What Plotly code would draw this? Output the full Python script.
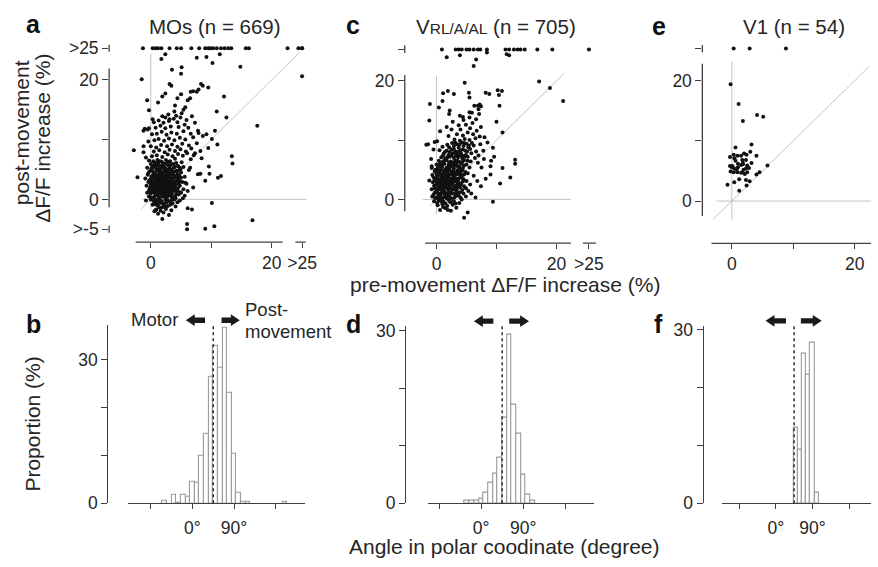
import plotly.graph_objects as go

W, H = 878, 567
FONT = "Liberation Sans, Arial, sans-serif"
TXT = "#262626"
AX = "#404040"
GUIDE = "#c4c4c4"

Y_SAT = 25.3      # ">25" row (y)
X_SAT_A = 25.0    # ">25" column in panel a
X_SAT_C = 25.4    # ">25" column in panel c

# ---------------- panel a : MOs (n = 669) ----------------
a_top_x = [-1.3, 0.3, 0.8, 1.2, 1.75, 3.1, 4.3, 5.0, 6.7, 8.0, 9.0, 9.5, 9.9, 10.3, 10.9,
           11.6, 12.2, 12.8, 13.3, 15.7, 16.2, 22.6, 24.4, X_SAT_A, X_SAT_A]
a_outliers = [(2.4, 24.3), (1.75, 23.5), (7.6, 23.7), (9.2, 23.8), (10.2, 22.8), (11.4, 24.3),
              (14.8, 22.2), (3.5, 21.7), (5.1, 22.1), (5.0, 21.0), (-1.5, 20.1), (X_SAT_A, 20.6),
              (3.1, 19.3), (3.4, 19.0), (8.3, 19.3), (8.6, 19.0), (9.5, 18.7), (7.9, 18.4),
              (7.0, 18.1), (7.6, 18.0), (6.6, 18.0), (2.4, 17.7), (1.9, 17.2), (5.0, 17.6),
              (4.4, 16.9), (12.1, 17.2), (-0.6, 16.6), (1.2, 16.2), (6.1, 16.6), (6.5, 16.9),
              (4.0, 15.7), (5.7, 15.4), (5.4, 15.0), (-0.3, 14.9), (3.9, 14.7), (10.9, 14.7),
              (12.5, 13.7), (0.3, 13.4), (2.4, 13.7), (3.1, 13.4), (4.9, 13.7), (-1.0, 11.8),
              (-1.2, 11.5), (-0.3, 11.9), (17.6, 12.3), (10.6, 11.5), (9.2, 10.9), (7.9, 11.1),
              (10.1, 10.1), (11.0, 9.2), (9.5, 8.6), (-2.8, 8.2), (-1.2, 8.9), (13.4, 7.2),
              (13.5, 6.0), (9.6, 5.5), (8.2, 4.3), (9.7, 4.3), (11.1, 3.6), (11.6, 3.9),
              (-2.2, 3.7), (10.1, -0.6), (6.1, -1.5), (6.8, -1.7), (1.9, -3.3), (6.0, -4.1),
              (6.0, -5.0), (9.0, -4.9), (10.5, -4.5), (16.8, -3.5), (-0.8, -0.2), (0.8, -1.8),
              (7.3, 7.7), (8.4, 6.9), (6.5, 5.3), (7.8, 4.2), (9.0, 3.1), (5.7, 2.8), (7.0, 2.0),
              (4.9, 1.2)]
a_core = [(1.2, -2.4), (2.1, -2.2), (3.0, -2.6), (0.6, -2.0), (0.9, -1.7), (1.6, -1.9), (2.5, -1.6),
          (3.4, -1.8), (1.9, -1.3), (4.1, -1.2), (0.3, -0.9), (1.1, -1.0), (1.5, -0.6), (2.2, -0.9),
          (2.8, -1.1), (3.6, -0.7), (4.4, -0.5), (0.5, -0.3), (1.0, -0.2), (1.8, -0.4), (2.4, -0.1),
          (3.1, -0.3), (3.9, 0.0), (4.8, -0.2), (5.3, 0.2), (-0.3, 0.5), (0.2, 0.3), (0.7, 0.6),
          (1.3, 0.4), (1.9, 0.5), (2.6, 0.3), (3.3, 0.6), (4.0, 0.5), (4.6, 0.8), (5.6, 0.6),
          (-0.6, 1.1), (0.0, 1.0), (0.5, 1.2), (1.1, 0.9), (1.6, 1.1), (2.2, 1.0), (2.9, 1.2),
          (3.5, 0.9), (4.2, 1.3), (5.0, 1.1), (6.1, 1.4), (-0.2, 1.7), (0.3, 1.5), (0.9, 1.8),
          (1.4, 1.6), (2.0, 1.7), (2.5, 1.5), (3.1, 1.8), (3.8, 1.6), (4.5, 1.9), (5.4, 1.7),
          (-0.7, 2.3), (0.1, 2.2), (0.6, 2.4), (1.2, 2.1), (1.7, 2.3), (2.3, 2.2), (2.8, 2.5),
          (3.4, 2.2), (4.1, 2.4), (4.8, 2.3), (5.9, 2.6), (-0.4, 2.9), (0.2, 2.8), (0.8, 3.0),
          (1.3, 2.7), (1.9, 2.9), (2.4, 2.8), (3.0, 3.0), (3.6, 2.8), (4.3, 3.1), (5.2, 2.9),
          (-0.9, 3.5), (0.0, 3.4), (0.5, 3.6), (1.0, 3.3), (1.5, 3.5), (2.1, 3.4), (2.6, 3.6),
          (3.2, 3.3), (3.9, 3.6), (4.6, 3.5), (5.6, 3.8), (-0.5, 4.1), (0.3, 4.0), (0.8, 4.2),
          (1.4, 3.9), (1.9, 4.1), (2.5, 4.0), (3.0, 4.3), (3.7, 4.1), (4.4, 4.2), (5.0, 4.5),
          (-0.2, 4.7), (0.4, 4.6), (1.0, 4.8), (1.6, 4.5), (2.2, 4.7), (2.8, 4.6), (3.4, 4.9),
          (4.1, 4.7), (4.9, 5.0), (6.3, 4.9), (-0.6, 5.3), (0.1, 5.2), (0.7, 5.4), (1.3, 5.1),
          (1.8, 5.3), (2.4, 5.2), (3.1, 5.5), (3.8, 5.3), (4.5, 5.6), (5.4, 5.4), (0.0, 5.9),
          (0.6, 5.8), (1.2, 6.0), (1.9, 5.7), (2.6, 6.0), (3.3, 5.8), (4.2, 6.1), (5.1, 6.2),
          (-0.3, 6.5), (0.4, 6.4), (1.1, 6.6), (1.8, 6.3), (2.5, 6.6), (3.2, 6.4), (4.0, 6.8),
          (6.6, 6.7), (0.8, 0.9), (1.5, 1.4), (2.1, 1.3), (2.7, 1.9), (1.1, 2.5), (2.0, 2.6),
          (1.6, 3.0), (2.3, 3.1), (0.7, 3.9), (1.7, 4.3), (2.6, 4.4), (1.3, 4.9), (0.9, 1.5),
          (2.4, 0.7), (3.0, 2.3), (1.8, 3.8), (2.9, 3.7), (0.4, 2.0), (3.5, 4.5), (1.0, 5.7),
          (2.2, 5.5), (3.6, 2.0), (1.4, 0.2), (2.0, -0.7), (3.2, 1.5), (0.2, 3.1), (2.8, 5.0),
          (1.7, 2.0), (3.8, 3.0), (4.0, 1.9), (3.3, 4.0), (0.6, 4.3), (2.5, 1.2), (1.2, 3.6),
          (0.9, -0.5), (2.7, 0.0)]
a_core2 = [(0.0, 0.0), (0.6, 0.2), (1.2, -0.1), (1.7, 0.8), (2.3, 0.4), (2.9, 0.6), (3.5, 0.3),
           (4.2, 0.9), (-0.3, 1.4), (0.4, 1.3), (1.0, 1.2), (1.8, 1.2), (2.4, 1.7), (3.1, 1.1),
           (3.7, 1.4), (4.4, 1.5), (-0.1, 2.0), (0.9, 2.1), (1.4, 2.2), (2.1, 2.0), (2.6, 2.2),
           (3.2, 2.0), (3.9, 2.3), (4.6, 2.6), (0.0, 2.5), (0.5, 2.7), (1.6, 2.6), (2.2, 2.5),
           (2.9, 2.7), (3.4, 2.6), (4.0, 2.8), (4.8, 3.0), (-0.2, 3.2), (0.8, 3.3), (1.3, 3.2),
           (1.9, 3.5), (2.6, 3.2), (3.6, 3.3), (4.3, 3.7), (5.0, 3.6), (0.1, 3.8), (1.1, 4.0),
           (2.2, 3.9), (2.8, 4.1), (3.3, 3.7), (4.0, 3.9), (4.7, 4.0), (-0.4, 4.4), (0.5, 4.3),
           (1.4, 4.5), (2.0, 4.4), (2.9, 4.4), (3.7, 4.6), (4.4, 4.8), (0.2, 5.0), (0.9, 5.1),
           (1.6, 4.9), (2.3, 5.0), (3.2, 5.1), (4.0, 5.4), (4.8, 5.3), (0.3, 5.6), (1.5, 5.6),
           (2.1, 6.0), (2.9, 5.7), (3.7, 5.9), (0.8, 6.1), (1.5, 6.4), (2.9, 6.3), (0.7, -0.8),
           (1.4, -1.3), (2.4, -1.3), (3.2, -0.9), (1.7, -0.2), (2.6, -0.5), (3.5, -0.1), (4.1, 0.2)]
a_mid = [(-0.8, 7.0), (0.2, 7.2), (1.0, 7.4), (1.9, 7.1), (2.8, 7.5), (3.6, 7.2), (4.5, 7.6),
         (5.3, 7.3), (6.0, 7.7), (7.1, 7.4), (-1.2, 7.9), (0.5, 8.0), (1.4, 8.2), (2.3, 7.9),
         (3.1, 8.3), (4.0, 8.1), (4.9, 8.4), (5.8, 8.0), (6.7, 8.5), (8.2, 8.1), (0.0, 8.9),
         (0.9, 8.7), (1.7, 9.1), (2.7, 8.9), (3.5, 9.2), (4.4, 8.8), (5.2, 9.3), (6.3, 9.0),
         (7.6, 9.4), (-0.4, 9.7), (0.6, 9.9), (1.3, 10.1), (2.2, 9.8), (3.0, 10.2), (3.9, 9.9),
         (4.8, 10.3), (5.7, 10.0), (7.0, 10.4), (8.6, 10.6), (0.2, 10.9), (1.0, 11.0), (1.8, 11.3),
         (2.6, 10.8), (3.4, 11.2), (4.3, 11.0), (5.4, 11.4), (6.6, 11.0), (7.8, 11.5), (-0.5, 11.7),
         (0.8, 12.0), (1.6, 12.3), (2.4, 11.9), (3.3, 12.2), (4.6, 12.1), (5.6, 12.5), (6.2, 12.0),
         (0.5, 12.9), (1.3, 13.2), (2.1, 12.8), (3.0, 13.1), (3.8, 13.5), (4.4, 12.9), (5.9, 13.3),
         (7.3, 12.8), (1.9, 13.9), (2.9, 14.2), (4.2, 14.0), (5.1, 14.4), (6.8, 13.9)]

# ---------------- panel c : VRL/A/AL (n = 705) ----------------
c_top_x = [0.9, 3.2, 3.7, 4.2, 5.0, 5.5, 6.2, 6.9, 7.3, 8.4, 11.5, 12.1, 12.9, 13.5, 14.0,
           14.7, 16.8, 19.3, X_SAT_C]
c_outliers = [(1.7, 24.0), (3.9, 24.3), (8.4, 24.8), (11.7, 24.5), (12.1, 24.3), (6.6, 23.6),
              (6.2, 22.5), (4.7, 19.7), (17.1, 19.9), (18.9, 18.8), (21.1, 16.6), (-1.1, 16.1),
              (-1.2, 13.3), (0.4, 15.5), (1.0, 16.6), (1.9, 18.3), (1.1, 17.9), (2.9, 17.8),
              (5.4, 18.0), (5.5, 17.2), (8.2, 18.0), (8.8, 17.8), (10.2, 18.4), (10.9, 18.3),
              (10.4, 17.6), (10.5, 15.8), (6.9, 15.8), (7.4, 15.7), (5.5, 14.7), (2.1, 14.4),
              (4.4, 13.9), (7.1, 14.4), (10.0, 13.1), (11.0, 11.3), (-1.7, 9.2), (-1.4, 9.3),
              (-0.3, 9.7), (9.6, 7.2), (13.1, 6.7), (13.1, 6.0), (11.0, 5.3), (9.1, 6.5),
              (9.0, 5.6), (12.3, 3.7), (10.6, 2.7), (9.4, -0.4), (5.2, -2.2), (4.6, -3.1),
              (-1.2, 3.2), (-0.8, 5.6)]
c_core = [(0.6, -1.8), (1.5, -1.5), (2.4, -1.9), (3.3, -1.4), (0.2, -1.0), (1.0, -0.8), (1.8, -1.1),
          (2.7, -0.9), (3.8, -0.6), (-0.4, -0.3), (0.4, -0.2), (1.2, -0.4), (2.0, -0.1), (2.9, -0.3),
          (4.2, 0.0), (-0.7, 0.5), (0.0, 0.3), (0.7, 0.6), (1.4, 0.4), (2.2, 0.5), (3.0, 0.3),
          (3.7, 0.6), (4.9, 0.5), (-0.3, 1.1), (0.3, 0.9), (0.9, 1.2), (1.6, 1.0), (2.3, 1.1),
          (3.1, 0.9), (3.9, 1.2), (5.3, 1.4), (-0.8, 1.7), (0.0, 1.6), (0.6, 1.8), (1.2, 1.5),
          (1.9, 1.7), (2.6, 1.6), (3.4, 1.8), (4.3, 1.6), (-0.4, 2.3), (0.3, 2.1), (0.9, 2.4),
          (1.5, 2.2), (2.2, 2.3), (2.9, 2.1), (3.6, 2.4), (4.6, 2.2), (5.6, 2.5), (-0.6, 2.9),
          (0.1, 2.8), (0.7, 3.0), (1.3, 2.7), (2.0, 2.9), (2.7, 2.8), (3.3, 3.0), (4.0, 2.7),
          (5.0, 3.1), (-0.2, 3.5), (0.4, 3.3), (1.0, 3.6), (1.7, 3.4), (2.4, 3.5), (3.0, 3.3),
          (3.8, 3.6), (4.5, 3.4), (-0.7, 4.1), (0.1, 4.0), (0.8, 4.2), (1.4, 3.9), (2.1, 4.1),
          (2.8, 4.0), (3.5, 4.3), (4.2, 4.0), (5.2, 4.4), (-0.3, 4.7), (0.5, 4.5), (1.1, 4.8),
          (1.8, 4.6), (2.5, 4.7), (3.2, 4.5), (3.9, 4.8), (4.8, 4.6), (-0.8, 5.3), (0.2, 5.2),
          (0.9, 5.4), (1.5, 5.1), (2.2, 5.3), (2.9, 5.2), (3.6, 5.5), (4.4, 5.3), (5.5, 5.4),
          (0.0, 5.9), (0.7, 5.7), (1.3, 6.0), (2.0, 5.8), (2.7, 5.9), (3.4, 5.7), (4.1, 6.0),
          (5.0, 5.9), (0.4, 6.5), (1.0, 6.3), (1.7, 6.6), (2.4, 6.4), (3.1, 6.5), (3.8, 6.3),
          (4.6, 6.6), (5.7, 6.4), (0.8, 7.1), (1.5, 6.9), (2.2, 7.2), (2.9, 7.0), (3.6, 7.1),
          (4.3, 6.9), (5.2, 7.2), (6.4, 7.0), (1.2, 7.7), (2.0, 7.5), (2.7, 7.8), (3.4, 7.6),
          (4.1, 7.7), (4.9, 7.5), (5.8, 7.8), (7.0, 7.4), (0.5, 8.3), (1.7, 8.2), (2.5, 8.4),
          (3.2, 8.1), (4.0, 8.3), (4.8, 8.2), (5.6, 8.5), (6.6, 8.1), (1.0, 8.9), (2.1, 8.8),
          (2.9, 9.0), (3.7, 8.7), (4.5, 9.0), (5.3, 8.8), (6.2, 9.1), (2.6, 9.5), (3.4, 9.3),
          (4.2, 9.6), (5.0, 9.4), (5.9, 9.5), (7.3, 9.3), (3.0, 10.1), (3.9, 9.9), (4.7, 10.2),
          (5.5, 10.0), (6.5, 10.3), (0.5, 0.0), (1.1, 1.9), (1.8, 2.5), (2.5, 3.0), (1.2, 4.3),
          (2.0, 3.7), (2.6, 4.4), (0.6, 2.6), (1.5, 3.1), (3.0, 3.8), (0.3, 4.8), (1.9, 5.0),
          (2.8, 5.6), (3.3, 6.2), (1.3, 1.3), (2.0, 0.8), (3.3, 1.4), (0.9, 3.9), (3.9, 5.0),
          (2.3, 6.1), (4.0, 4.5), (1.7, 0.2), (3.5, 2.6), (4.4, 7.3), (3.1, 7.9), (2.2, 2.7)]
c_core2 = [(0.1, -0.6), (0.8, -0.4), (1.5, -0.7), (2.3, -0.5), (3.2, -0.7), (1.1, -1.3), (1.9, -1.8),
           (-0.2, 0.2), (0.4, 0.5), (1.0, 0.2), (1.7, 0.6), (2.5, 0.1), (3.3, 0.6), (4.0, 0.3),
           (-0.5, 0.8), (0.1, 1.3), (0.6, 1.0), (1.3, 0.9), (2.0, 1.3), (2.7, 1.0), (3.5, 1.1),
           (4.5, 1.0), (-0.3, 1.9), (0.4, 1.7), (1.0, 1.6), (1.6, 2.0), (2.3, 1.9), (3.0, 1.7),
           (3.9, 2.0), (4.9, 1.9), (0.0, 2.5), (0.6, 2.3), (1.2, 2.3), (1.9, 2.2), (2.6, 2.5),
           (3.2, 2.3), (4.1, 2.5), (-0.3, 3.2), (0.3, 3.0), (1.0, 3.1), (1.7, 2.9), (2.3, 3.2),
           (2.9, 3.0), (3.6, 3.1), (4.4, 3.0), (-0.5, 3.7), (0.2, 3.7), (0.8, 3.5), (1.4, 3.6),
           (2.1, 3.4), (2.7, 3.6), (3.4, 3.5), (4.2, 3.7), (0.0, 4.3), (0.6, 4.1), (1.2, 4.0),
           (1.8, 4.2), (2.4, 4.3), (3.1, 4.1), (3.8, 4.3), (4.6, 4.2), (-0.2, 5.0), (0.6, 4.9),
           (1.4, 4.6), (2.1, 4.9), (2.8, 4.8), (3.5, 4.9), (4.3, 4.9), (0.3, 5.6), (1.0, 5.8),
           (1.7, 5.4), (2.4, 5.6), (3.1, 5.7), (3.8, 5.5), (4.6, 5.7), (0.6, 6.1), (1.3, 6.6),
           (2.1, 6.2), (2.8, 6.2), (3.5, 6.5), (4.3, 6.3), (5.2, 6.5), (1.1, 7.4), (1.8, 7.1),
           (2.5, 7.4), (3.2, 7.3), (3.9, 7.4), (4.7, 7.2), (1.4, 8.0), (2.2, 8.0), (2.9, 8.5),
           (3.6, 8.0), (4.4, 8.4), (5.1, 8.1), (1.8, 9.2), (3.1, 9.6), (3.8, 9.2), (4.6, 9.5),
           (5.4, 9.1)]
c_mid = [(2.0, 10.7), (3.4, 11.0), (4.4, 10.8), (5.2, 11.3), (6.1, 11.0), (7.2, 10.6), (4.0, 11.8),
         (5.6, 12.0), (6.7, 11.6), (3.7, 12.5), (4.9, 12.6), (6.0, 12.9), (7.4, 12.2), (2.7, 13.1),
         (4.5, 13.4), (5.5, 13.8), (6.6, 13.5), (3.9, 14.1), (5.9, 14.6), (7.0, 15.2), (6.3, 15.8),
         (7.2, 16.0), (2.2, 15.0), (1.7, 12.2), (2.5, 11.8), (8.0, 10.5), (7.8, 8.2), (8.5, 9.6),
         (9.4, 8.7), (7.9, 6.8), (6.9, 6.2), (7.5, 5.4), (6.2, 4.0), (6.8, 3.1), (8.2, 3.5),
         (9.0, 4.2), (7.4, 2.2), (5.8, 1.0), (6.5, 0.3), (0.1, 9.8), (-0.5, 8.4), (-0.9, 6.8),
         (0.6, 11.5)]

# ---------------- panel e : V1 (n = 54) ----------------
e_top_x = [0.3, 2.9, 8.8]
e_pts = [(-0.2, 19.4), (1.1, 16.1), (4.1, 14.3), (5.1, 14.0), (1.8, 13.3), (3.2, 9.4), (0.6, 8.9),
         (-0.3, 7.3), (0.3, 7.7), (0.9, 7.5), (1.5, 7.5), (2.0, 7.9), (2.4, 7.7), (3.0, 8.2),
         (4.0, 7.5), (0.4, 7.1), (1.7, 6.8), (0.6, 6.7), (2.3, 6.8), (3.2, 6.3), (-0.3, 5.8),
         (0.1, 5.8), (0.4, 5.4), (1.0, 5.6), (1.5, 6.0), (1.8, 6.3), (2.5, 5.9), (2.8, 5.5),
         (1.9, 5.2), (2.3, 5.4), (-0.2, 4.9), (0.3, 4.8), (0.9, 4.8), (1.5, 4.7), (1.7, 4.8),
         (2.5, 4.8), (5.8, 5.9), (4.5, 4.8), (4.0, 4.4), (1.2, 3.6), (2.3, 3.5), (2.9, 3.3),
         (2.4, 2.6), (-0.7, 2.7), (0.4, 3.1), (1.2, 1.7), (0.0, 5.6), (1.8, 6.1), (0.8, 5.2),
         (2.1, 4.5), (1.0, 6.2)]

# ---------------- histograms (angle in polar coordinate, 10 deg bins) ----------------
b_centers = [-60, -40, -30, -20, -10, 0, 10, 20, 30, 40, 50, 60, 70, 80, 90, 100, 110, 120, 200]
b_props = [0.6, 1.7, 0.2, 1.7, 1.35, 4.5, 4.3, 9.9, 14.5, 26.5, 32.8, 28.3, 36.6, 23.0, 10.3,
           2.2, 0.3, 0.3, 0.3]
d_centers = [-30, -20, -10, 0, 10, 20, 30, 40, 50, 60, 70, 80, 90, 100, 110]
d_props = [0.45, 0.45, 0.45, 0.85, 1.9, 3.6, 5.2, 7.9, 14.9, 29.3, 17.1, 12.1, 4.9, 1.5, 0.45]
f_centers = [50, 60, 70, 80, 90, 100]
f_props = [13.0, 9.3, 25.9, 22.2, 27.8, 1.85]
BOUNDARY_DEG = 45

hist_ticks = [-90, 0, 90, 180]
hist_ticktext = ["", "0°", "90°", ""]


def X(p):
    return p / W


def Y(p):
    return 1 - p / H


def xy(points):
    return [p[0] for p in points], [p[1] for p in points]


fig = go.Figure()

MK = dict(size=4.0, color="#111111", line=dict(width=0))


def add_scatter(top_x, pts_lists, xa, ya):
    xs = list(top_x)
    ys = [Y_SAT] * len(top_x)
    for pts in pts_lists:
        px_, py_ = xy(pts)
        xs += px_
        ys += py_
    fig.add_trace(go.Scatter(x=xs, y=ys, mode="markers", marker=MK, xaxis=xa, yaxis=ya,
                             hoverinfo="skip"))


add_scatter(a_top_x, [a_outliers, a_core, a_core2, a_mid], "x", "y")
add_scatter(c_top_x, [c_outliers, c_core, c_core2, c_mid], "x2", "y2")
add_scatter(e_top_x, [e_pts], "x3", "y3")

BAR_MK = dict(color="white", line=dict(color="#9a9a9a", width=1.1))
fig.add_trace(go.Bar(x=b_centers, y=b_props, width=10, marker=BAR_MK, xaxis="x4", yaxis="y4"))
fig.add_trace(go.Bar(x=d_centers, y=d_props, width=10, marker=BAR_MK, xaxis="x5", yaxis="y5"))
fig.add_trace(go.Bar(x=f_centers, y=f_props, width=10, marker=BAR_MK, xaxis="x6", yaxis="y6"))

TICKFONT = dict(family=FONT, size=17.5, color=TXT)


def sc_x(dom, rng, tv, tt, anchor):
    return dict(domain=[X(dom[0]), X(dom[1])], range=rng, anchor=anchor, showline=False,
                showgrid=False, zeroline=False, ticks="outside", ticklen=5, tickwidth=1.3,
                tickcolor=AX, tickvals=tv, ticktext=tt, tickfont=TICKFONT, fixedrange=True)


def sc_y(dom, rng, tv, tt, anchor):
    return dict(domain=[Y(dom[1]), Y(dom[0])], range=rng, anchor=anchor, showline=False,
                showgrid=False, zeroline=False, ticks="outside", ticklen=6, tickwidth=1.3,
                tickcolor=AX, tickvals=tv, ticktext=tt, tickfont=TICKFONT, fixedrange=True)


def h_x(dom, rng, anchor):
    return dict(domain=[X(dom[0]), X(dom[1])], range=rng, anchor=anchor, showline=True,
                linecolor=AX, linewidth=1.3, showgrid=False, zeroline=False, ticks="outside",
                ticklen=5, tickwidth=1.3, tickcolor=AX, tickvals=hist_ticks,
                ticktext=hist_ticktext, tickfont=TICKFONT, ticklabelstandoff=4)


def h_y(dom, rng, pos):
    return dict(domain=[Y(dom[1]), Y(dom[0])], range=rng, anchor="free", position=X(pos),
                showline=True, linecolor=AX, linewidth=1.3, showgrid=False, zeroline=False,
                ticks="outside", ticklen=6, tickwidth=1.3, tickcolor=AX,
                tickvals=[0, 10, 20, 30], ticktext=["0", "", "", "30"], tickfont=TICKFONT)


layout_axes = dict(
    xaxis=sc_x((110, 312), [-6.885, 26.23], [0, 10, 20, X_SAT_A], ["0", "", "20", ">25"], "y"),
    yaxis=sc_y((40, 243), [-7.154, 25.85], [-5, 0, 10, 20, Y_SAT], [">-5", "0", "", "20", ">25"], "x"),
    xaxis2=sc_x((408, 612), [-5.29, 28.43], [0, 10, 20, X_SAT_C], ["0", "", "20", ">25"], "y2"),
    yaxis2=sc_y((40, 244), [-7.377, 26.07], [0, 10, 20, Y_SAT], ["0", "", "20", ""], "x2"),
    xaxis3=sc_x((708, 878), [-4.79, 22.63], [0, 10, 20], ["0", "", "20"], "y3"),
    yaxis3=sc_y((40, 244.3), [-7.03, 25.92], [0, 10, 20, Y_SAT], ["0", "", "20", ""], "x3"),
    xaxis4=h_x((129, 307), [-139.5, 242.5], "y4"),
    yaxis4=h_y((328, 511.7), [0, 37.25], 108.3),
    xaxis5=h_x((431.7, 598.3), [-113, 240.3], "y5"),
    yaxis5=h_y((329, 511.7), [0, 30.9], 408.3),
    xaxis6=h_x((727.7, 878), [-132.4, 234], "y6"),
    yaxis6=h_y((329, 511.7), [0, 30.72], 708.3),
)

shapes = []
AXLINE = dict(color=AX, width=1.3)
GLINE = dict(color=GUIDE, width=1)


def xline(xa, ya, x0, x1):
    shapes.append(dict(type="line", xref=xa, yref=ya + " domain", x0=x0, x1=x1, y0=0, y1=0,
                       line=AXLINE))


def yline(xa, ya, y0, y1):
    shapes.append(dict(type="line", xref=xa + " domain", yref=ya, x0=0, x1=0, y0=y0, y1=y1,
                       line=AXLINE))


def guides(xa, ya, diag, vert, horiz):
    shapes.append(dict(type="line", xref=xa, yref=ya, x0=diag[0], y0=diag[0], x1=diag[1],
                       y1=diag[1], line=GLINE, layer="below"))
    shapes.append(dict(type="line", xref=xa, yref=ya, x0=0, x1=0, y0=vert[0], y1=vert[1],
                       line=GLINE, layer="below"))
    shapes.append(dict(type="line", xref=xa, yref=ya, x0=horiz[0], x1=horiz[1], y0=0, y1=0,
                       line=GLINE, layer="below"))


# panel a axes (broken)
xline("x", "y", -2.5, 21.8)
xline("x", "y", 23.9, 25.6)
yline("x", "y", -1.3, 21.9)
yline("x", "y", Y_SAT - 0.6, Y_SAT + 0.6)
yline("x", "y", -5.6, -4.4)
guides("x", "y", (-1.6, 24.6), (-1.7, 24.4), (-1.4, 25.7))
# panel c
xline("x2", "y2", -1.9, 22.4)
xline("x2", "y2", 24.4, 26.6)
yline("x2", "y2", -2.0, 21.0)
yline("x2", "y2", Y_SAT - 0.6, Y_SAT + 0.7)
guides("x2", "y2", (-1.1, 21.3), (-2.5, 20.8), (-2.3, 22.4))
# panel e
xline("x3", "y3", -3.3, 22.63)
yline("x3", "y3", -2.5, 22.8)
yline("x3", "y3", Y_SAT - 0.6, Y_SAT + 0.6)
guides("x3", "y3", (-3.0, 22.3), (-3.1, 23.2), (-2.5, 22.63))

# 45 deg boundary (dotted)
for xa, ya in (("x4", "y4"), ("x5", "y5"), ("x6", "y6")):
    shapes.append(dict(type="line", xref=xa, yref=ya + " domain", x0=BOUNDARY_DEG,
                       x1=BOUNDARY_DEG, y0=0, y1=1, line=dict(color="#222", width=1.4, dash="dot")))


def arrow(tip, tail, yc):
    d = 1 if tail > tip else -1
    hl, hh, sh = 9, 6, 2.8
    pts = [(tip, yc), (tip + d * hl, yc - hh), (tip + d * hl, yc - sh), (tail, yc - sh),
           (tail, yc + sh), (tip + d * hl, yc + sh), (tip + d * hl, yc + hh)]
    path = "M " + " L ".join(f"{X(a):.5f},{Y(b):.5f}" for a, b in pts) + " Z"
    shapes.append(dict(type="path", xref="paper", yref="paper", path=path,
                       fillcolor="#1a1a1a", line=dict(width=0)))


arrow(187.3, 206.7, 323.3)
arrow(241.7, 223.3, 323.3)
arrow(477.7, 497.3, 324.3)
arrow(533.3, 513.3, 324.3)
arrow(771.7, 792.3, 324)
arrow(828.3, 807.3, 324)

annotations = []


def ann(text, xp, yp, size, xanchor="center", yanchor="middle", angle=0, bold=False):
    annotations.append(dict(text=f"<b>{text}</b>" if bold else text, x=X(xp), y=Y(yp),
                            xref="paper", yref="paper", showarrow=False, xanchor=xanchor,
                            yanchor=yanchor, textangle=angle,
                            font=dict(family=FONT, size=size, color="#111" if bold else TXT)))


for lt, xp, yp in (("a", 34, 19), ("c", 356, 20), ("e", 664.5, 21),
                   ("b", 33.5, 327), ("d", 356, 327), ("f", 664, 327)):
    ann(lt, xp, yp, 25, bold=True)

ann("MOs (n = 669)", 217, 21.5, 20.5)
ann("V<span style='font-size:15.5px'>RL/A/AL</span> (n = 705)", 499.5, 21.5, 20.5)
ann("V1 (n = 54)", 800.8, 21.5, 20.5)
ann("pre-movement ΔF/F increase (%)", 509, 287, 21)
ann("Angle in polar coodinate (degree)", 508.5, 556, 21)
ann("post-movement", 22, 130, 21, angle=-90)
ann("ΔF/F increase (%)", 42, 136, 21, angle=-90)
ann("Proportion (%)", 33, 430, 21, angle=-90)
ann("Motor", 181, 323, 18.5, xanchor="right")
ann("Post-", 245, 312, 18.5, xanchor="left")
ann("movement", 245, 335, 18.5, xanchor="left")

fig.update_layout(
    width=W, height=H, margin=dict(l=0, r=0, t=0, b=0),
    paper_bgcolor="white", plot_bgcolor="white", showlegend=False,
    font=dict(family=FONT, color=TXT), shapes=shapes, annotations=annotations,
    bargap=0, **layout_axes,
)

fig.write_html("out.html")
